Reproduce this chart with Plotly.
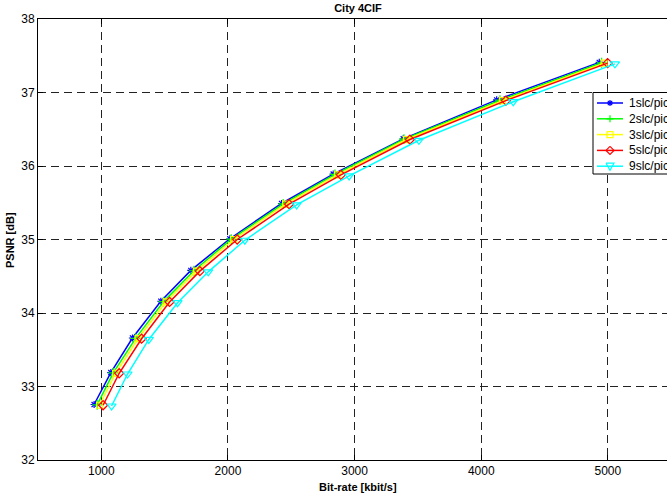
import plotly.graph_objects as go

# ---- data ----
series_names = ["1slc/pic", "2slc/pic", "3slc/pic", "5slc/pic", "9slc/pic"]

rate_1slc = [943, 1075, 1246, 1470, 1707, 2015, 2423, 2831, 3384, 4122, 4932]
rate_2slc = [967, 1094, 1271, 1492, 1731, 2026, 2436, 2845, 3390, 4148, 4951]
rate_3slc = [986, 1113, 1290, 1511, 1750, 2045, 2455, 2864, 3409, 4167, 4970]
rate_5slc = [1014, 1141, 1318, 1539, 1778, 2073, 2483, 2892, 3437, 4195, 4998]
rate_9slc = [1081, 1207, 1375, 1602, 1844, 2133, 2542, 2957, 3508, 4253, 5056]

psnr_1slc = [32.755, 33.19, 33.66, 34.16, 34.58, 35.01, 35.49, 35.89, 36.37, 36.90, 37.41]
psnr_2slc = [32.750, 33.185, 33.655, 34.155, 34.575, 35.005, 35.485, 35.885, 36.365, 36.895, 37.405]
psnr_3slc = [32.745, 33.18, 33.65, 34.15, 34.57, 35.00, 35.48, 35.88, 36.36, 36.89, 37.40]
psnr_5slc = [32.745, 33.18, 33.65, 34.15, 34.57, 35.00, 35.48, 35.88, 36.36, 36.89, 37.40]
psnr_9slc = [32.735, 33.17, 33.64, 34.14, 34.56, 34.99, 35.47, 35.865, 36.35, 36.875, 37.39]

x_ticks = [1000, 2000, 3000, 4000, 5000]
y_ticks = [32, 33, 34, 35, 36, 37, 38]

rates = [rate_1slc, rate_2slc, rate_3slc, rate_5slc, rate_9slc]
psnrs = [psnr_1slc, psnr_2slc, psnr_3slc, psnr_5slc, psnr_9slc]
colors = ["#0000ff", "#00ff00", "#ffff00", "#ff0000", "#00ffff"]
symbols = ["asterisk-open", "cross-thin-open", "square-open", "diamond-open", "triangle-down-open"]
msizes = [6, 7, 6, 7, 8]

FONT = "Liberation Sans, Arial, Helvetica, sans-serif"

# plot-area geometry (pixels)
L, R, T, B = 38, 667, 19, 460


def px(x):
    return (x - L) / (R - L)


def py(y):
    return (B - y) / (B - T)


fig = go.Figure()
for name, xr, yp, c, s, ms in zip(series_names, rates, psnrs, colors, symbols, msizes):
    fig.add_trace(go.Scatter(
        x=xr, y=yp, name=name, mode="lines+markers", showlegend=False,
        line=dict(color=c, width=1.5),
        marker=dict(symbol=s, size=ms, color=c, line=dict(color=c, width=1.2)),
    ))

# ---- Matlab-style legend (box clipped by the right edge, like the reference) ----
shapes = []
annotations = []
box_left, box_top, box_bottom = 593, 92.5, 174
shapes.append(dict(type="rect", xref="paper", yref="paper", layer="above",
                   x0=px(box_left), x1=px(730), y0=py(box_top), y1=py(box_bottom),
                   line=dict(color="black", width=1), fillcolor="white"))

marker_paths = [
    [[(-3, 0), (3, 0)], [(0, -3), (0, 3)], [(-2.2, -2.2), (2.2, 2.2)], [(-2.2, 2.2), (2.2, -2.2)]],
    [[(-3.5, 0), (3.5, 0)], [(0, -3.5), (0, 3.5)]],
    [[(-3, -3), (3, -3), (3, 3), (-3, 3), (-3, -3)]],
    [[(0, -4), (4, 0), (0, 4), (-4, 0), (0, -4)]],
    [[(-4, -3), (4, -3), (0, 4), (-4, -3)]],
]

for i, (name, c) in enumerate(zip(series_names, colors)):
    yc = 103 + 15.8 * i
    shapes.append(dict(type="line", xref="paper", yref="paper", layer="above",
                       x0=px(597), x1=px(623), y0=py(yc), y1=py(yc),
                       line=dict(color=c, width=1.5)))
    xc = 610
    segs = []
    for seg in marker_paths[i]:
        pts = [f"{px(xc + dx):.5f},{py(yc + dy):.5f}" for dx, dy in seg]
        segs.append("M " + " L ".join(pts))
    shapes.append(dict(type="path", xref="paper", yref="paper", layer="above",
                       path=" ".join(segs), line=dict(color=c, width=1.2)))
    annotations.append(dict(text=name, xref="paper", yref="paper",
                            x=px(627), y=py(yc), xanchor="left", yanchor="middle",
                            showarrow=False, font=dict(size=12, family=FONT, color="black")))

annotations += [
    dict(text="<b>Bit-rate [kbit/s]</b>", xref="paper", yref="paper",
         x=px(358), y=py(487), xanchor="center", yanchor="middle",
         showarrow=False, font=dict(size=11, family=FONT)),
    dict(text="<b>PSNR [dB]</b>", xref="paper", yref="paper", textangle=-90,
         x=px(10), y=py(240), xanchor="center", yanchor="middle",
         showarrow=False, font=dict(size=11, family=FONT)),
]

fig.update_layout(
    width=667, height=494,
    margin=dict(l=L, r=667 - R, t=T, b=494 - B, autoexpand=False),
    paper_bgcolor="white", plot_bgcolor="white",
    font=dict(family=FONT, size=12, color="black"),
    title=dict(text="<b>City 4CIF</b>", x=358 / 667, xref="container", xanchor="center",
               y=1 - 8 / 494, yref="container", yanchor="middle",
               font=dict(size=11, family=FONT)),
    showlegend=False,
    xaxis=dict(range=[500, 5467], tickvals=x_ticks, ticktext=[str(v) for v in x_ticks],
               showgrid=True, gridcolor="#222", griddash="8px,5px", gridwidth=1,
               showline=True, linecolor="black", linewidth=1, mirror="ticks",
               ticks="inside", ticklen=5, tickcolor="black", zeroline=False),
    yaxis=dict(range=[32, 38], tickvals=y_ticks, ticktext=[str(v) for v in y_ticks],
               showgrid=True, gridcolor="#222", griddash="8px,5px", gridwidth=1,
               showline=True, linecolor="black", linewidth=1, mirror=False,
               ticks="inside", ticklen=5, tickcolor="black", zeroline=False),
    shapes=shapes,
    annotations=annotations,
)

fig.write_html("out.html")
